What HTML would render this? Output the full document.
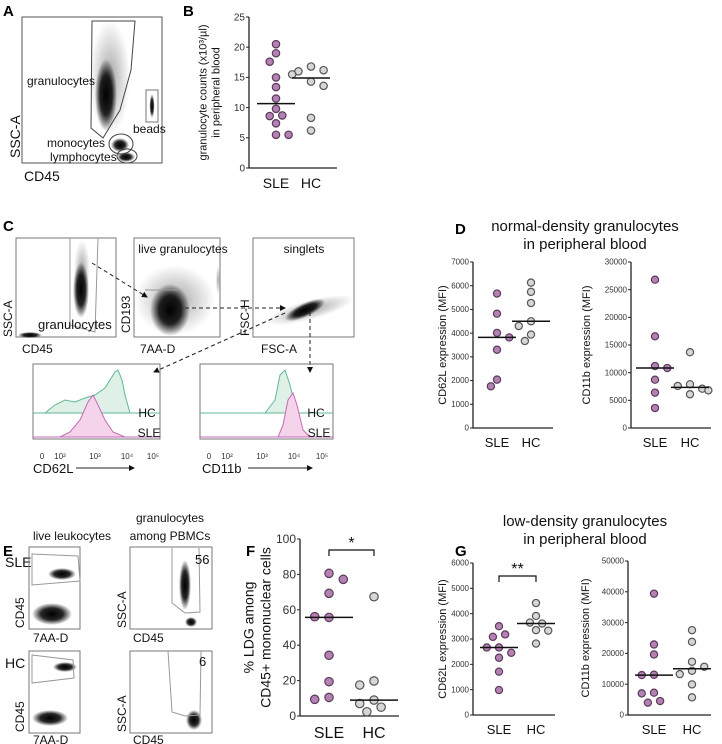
<!DOCTYPE html>
<html><head><meta charset="utf-8">
<style>
body{margin:0;background:#fff;}
svg{display:block;font-family:"Liberation Sans",sans-serif;}
.pl{font-weight:bold;font-size:15px;}
.t{fill:#111;}
</style></head>
<body>
<svg id="fig" width="722" height="744" viewBox="0 0 722 744" font-size="11">
<defs>
<radialGradient id="cloud"><stop offset="0" stop-color="#000" stop-opacity="1"/><stop offset="0.55" stop-color="#000" stop-opacity="0.85"/><stop offset="1" stop-color="#000" stop-opacity="0"/></radialGradient>
<radialGradient id="haze"><stop offset="0" stop-color="#000" stop-opacity="0.35"/><stop offset="1" stop-color="#000" stop-opacity="0"/></radialGradient>
<marker id="ah" markerWidth="6" markerHeight="6" refX="5" refY="3" orient="auto"><path d="M0,0L6,3L0,6z" fill="#111"/></marker>
</defs>

<text class="pl" x="3" y="16">A</text>
<text class="pl" x="183" y="16">B</text>
<text class="pl" x="3" y="231">C</text>
<text class="pl" x="455" y="234">D</text>
<text class="pl" x="3" y="556">E</text>
<text class="pl" x="246" y="556">F</text>
<text class="pl" x="455" y="556">G</text>

<g>
<rect x="22" y="17" width="140" height="146" fill="none" stroke="#555" stroke-width="1"/>
<ellipse cx="110" cy="78" rx="20" ry="58" fill="url(#haze)"/>
<ellipse cx="106" cy="95" rx="11" ry="36" fill="url(#cloud)"/>
<ellipse cx="120" cy="145" rx="9" ry="7" fill="url(#cloud)"/>
<ellipse cx="126" cy="157" rx="9" ry="5" fill="url(#cloud)"/>
<ellipse cx="152" cy="106" rx="2.5" ry="12" fill="url(#cloud)"/>
<path d="M92,21 L135,21 L131,70 L120,110 L103,138 L91,128 Z" fill="none" stroke="#444" stroke-width="1"/>
<rect x="146" y="90" width="12" height="32" fill="none" stroke="#777"/>
<ellipse cx="121" cy="144" rx="12" ry="10" fill="none" stroke="#444"/>
<ellipse cx="127" cy="156" rx="10" ry="7" fill="none" stroke="#444"/>
<text class="t" x="27" y="85" font-size="12">granulocytes</text>
<text class="t" x="47" y="147" font-size="12">monocytes</text>
<text class="t" x="50" y="161" font-size="12">lymphocytes</text>
<text class="t" x="133" y="133" font-size="12">beads</text>
<text class="t" font-size="14" transform="translate(20,158) rotate(-90)">SSC-A</text>
<text class="t" x="24" y="181" font-size="14">CD45</text>
</g>

<g>
<rect x="16" y="238" width="100" height="99" fill="none" stroke="#777"/>
<ellipse cx="81" cy="290" rx="8" ry="28" fill="url(#cloud)"/>
<ellipse cx="82" cy="270" rx="8" ry="30" fill="url(#haze)"/>
<ellipse cx="30" cy="335" rx="12" ry="3" fill="url(#cloud)"/>
<path d="M70,238 L70,325 L95,332 L98,238" fill="none" stroke="#999"/>
<text class="t" x="38" y="329" font-size="13">granulocytes</text>
<text class="t" font-size="12" transform="translate(12,337) rotate(-90)">SSC-A</text>
<text class="t" x="22" y="353" font-size="12">CD45</text>
<rect x="134" y="238" width="86" height="99" fill="none" stroke="#777"/>
<ellipse cx="170" cy="310" rx="20" ry="26" fill="url(#cloud)"/>
<ellipse cx="175" cy="300" rx="40" ry="35" fill="url(#haze)"/>
<ellipse cx="218" cy="280" rx="2" ry="15" fill="url(#haze)"/>
<path d="M145,290 L180,290" fill="none" stroke="#999"/>
<text class="t" x="183" y="253" text-anchor="middle" font-size="12">live granulocytes</text>
<text class="t" font-size="12" transform="translate(130,333) rotate(-90)">CD193</text>
<text class="t" x="140" y="353" font-size="12">7AA-D</text>
<rect x="253" y="238" width="101" height="99" fill="none" stroke="#777"/>
<ellipse cx="305" cy="310" rx="22" ry="7" transform="rotate(-25 305 310)" fill="url(#cloud)"/>
<ellipse cx="310" cy="310" rx="45" ry="10" transform="rotate(-15 310 310)" fill="url(#haze)"/>
<text class="t" x="304" y="253" text-anchor="middle" font-size="12">singlets</text>
<text class="t" font-size="12" transform="translate(249,336) rotate(-90)">FSC-H</text>
<text class="t" x="261" y="353" font-size="12">FSC-A</text>
<g stroke="#222" stroke-dasharray="4,3" fill="none" stroke-width="1" marker-end="url(#ah)">
<path d="M92,263 L147,297"/><path d="M178,308 L285,308"/><path d="M285,313 L154,372"/><path d="M310,312 L310,372"/>
</g>
<rect x="33" y="364" width="127" height="75" fill="none" stroke="#777"/>
<path d="M33,413 L45,413 L55,405 L65,400 L75,402 L85,398 L95,395 L105,388 L110,380 L115,372 L118,370 L122,380 L125,395 L130,413 L160,413 Z" fill="#dff0e6" stroke="#5fba94"/>
<path d="M33,437 L60,437 L70,432 L80,420 L88,402 L93,395 L98,405 L105,420 L113,432 L125,437 L160,437 Z" fill="#f5d3ea" stroke="#c36bb4"/>
<text class="t" x="147" y="417" font-size="12" text-anchor="middle">HC</text>
<text class="t" x="149" y="437" font-size="12" text-anchor="middle">SLE</text>
<rect x="200" y="364" width="133" height="75" fill="none" stroke="#777"/>
<path d="M200,413 L265,413 L275,400 L280,375 L285,370 L290,385 L297,413 L333,413 Z" fill="#dff0e6" stroke="#5fba94"/>
<path d="M200,437 L278,437 L283,425 L288,400 L293,393 L297,405 L303,430 L310,437 L333,437 Z" fill="#f5d3ea" stroke="#c36bb4"/>
<text class="t" x="316" y="417" font-size="12" text-anchor="middle">HC</text>
<text class="t" x="319" y="437" font-size="12" text-anchor="middle">SLE</text>
<g font-size="8" fill="#333" text-anchor="middle">
<text x="42" y="459">0</text><text x="60" y="459">10²</text><text x="95" y="459">10³</text><text x="127" y="459">10⁴</text><text x="153" y="459">10⁵</text>
<text x="209" y="459">0</text><text x="227" y="459">10²</text><text x="262" y="459">10³</text><text x="294" y="459">10⁴</text><text x="322" y="459">10⁵</text>
</g>
<text class="t" x="33" y="473" font-size="13">CD62L</text>
<text class="t" x="202" y="473" font-size="13">CD11b</text>
<path d="M76,468 L134,468" stroke="#222" marker-end="url(#ah)"/>
<path d="M248,468 L312,468" stroke="#222" marker-end="url(#ah)"/>
</g>

<g>
<text class="t" x="72" y="540" text-anchor="middle" font-size="12">live leukocytes</text>
<text class="t" x="170" y="522" text-anchor="middle" font-size="12">granulocytes</text>
<text class="t" x="170" y="540" text-anchor="middle" font-size="12">among PBMCs</text>
<text class="t" x="5" y="567" font-size="14">SLE</text>
<text class="t" x="5" y="668" font-size="14">HC</text>
<rect x="29" y="547" width="51" height="82" fill="none" stroke="#777"/>
<ellipse cx="62" cy="574" rx="14" ry="6" fill="url(#cloud)"/>
<ellipse cx="52" cy="614" rx="20" ry="11" fill="url(#cloud)"/>
<path d="M32,554 L78,556 L80,581 L32,585 Z" fill="none" stroke="#999"/>
<rect x="130" y="547" width="82" height="82" fill="none" stroke="#777"/>
<ellipse cx="185" cy="585" rx="6" ry="25" fill="url(#cloud)"/>
<ellipse cx="191" cy="622" rx="6" ry="5" fill="url(#cloud)"/>
<path d="M172,548 L172,603 L185,613 L200,612 L199,548" fill="none" stroke="#999"/>
<text class="t" x="195" y="564" font-size="13">56</text>
<rect x="29" y="651" width="51" height="82" fill="none" stroke="#777"/>
<ellipse cx="65" cy="667" rx="12" ry="5" fill="url(#cloud)"/>
<ellipse cx="50" cy="718" rx="18" ry="8" fill="url(#cloud)"/>
<path d="M32,655 L73,660 L74,678 L32,683 Z" fill="none" stroke="#999"/>
<rect x="130" y="651" width="82" height="82" fill="none" stroke="#777"/>
<ellipse cx="194" cy="720" rx="8" ry="10" fill="url(#cloud)"/>
<path d="M168,651 L172,712 L185,716 L200,715 L201,651" fill="none" stroke="#999"/>
<text class="t" x="199" y="666" font-size="13">6</text>
<g font-size="12" class="t">
<text transform="translate(24,628) rotate(-90)">CD45</text><text x="33" y="642">7AA-D</text>
<text transform="translate(126,628) rotate(-90)">SSC-A</text><text x="133" y="642">CD45</text>
<text transform="translate(24,732) rotate(-90)">CD45</text><text x="33" y="744">7AA-D</text>
<text transform="translate(126,732) rotate(-90)">SSC-A</text><text x="133" y="744">CD45</text>
</g>
</g>

<text class="t" x="585" y="231" text-anchor="middle" font-size="15">normal-density granulocytes</text>
<text class="t" x="585" y="249" text-anchor="middle" font-size="15">in peripheral blood</text>
<text class="t" x="585" y="526" text-anchor="middle" font-size="15">low-density granulocytes</text>
<text class="t" x="585" y="544" text-anchor="middle" font-size="15">in peripheral blood</text>

<g id="charts"></g>
</svg>
<script>
const bTicks=[0,5,10,15,20,25];
const bSLE=[20.5,19,17.6,15,13.4,11.5,9.8,8.7,8.6,7.4,5.5,5.5];
const bHC=[16.8,16.2,16,15.5,14.3,13.6,8.3,6.2];
const dLTicks=[0,1000,2000,3000,4000,5000,6000,7000];
const dLSLE=[5670,4820,4010,3820,3300,2040,1760];
const dLHC=[6130,5740,5270,4500,4300,3940,3670];
const dRTicks=[0,5000,10000,15000,20000,25000,30000];
const dRSLE=[26800,16570,11200,10840,8730,6390,3610];
const dRHC=[13700,7900,7600,7100,6800,6100];
const fTicks=[0,20,40,60,80,100];
const fSLE=[80.6,77.2,69.3,55.7,56.1,34.3,19.4,10.5,9.4];
const fHC=[67.4,19.8,17.5,9,7,5,2.4];
const gLTicks=[0,1000,2000,3000,4000,5000,6000];
const gLSLE=[3505,3180,3085,2665,2665,2455,2260,1710,985];
const gLHC=[4420,3910,3650,3610,3350,3330,2820];
const gRTicks=[0,10000,20000,30000,40000,50000];
const gRSLE=[39400,22900,19650,13070,12960,7240,7020,4540,4000];
const gRHC=[27540,23760,17280,15660,14360,13280,9930,5730];
const groups=["SLE","HC"];

const NS="http://www.w3.org/2000/svg";
const root=document.getElementById('charts');
function mk(tag,attrs,parent){const e=document.createElementNS(NS,tag);for(const k in attrs)e.setAttribute(k,attrs[k]);(parent||root).appendChild(e);return e;}
function median(a){const s=[...a].sort((x,y)=>x-y);const n=s.length;return n%2?s[(n-1)/2]:(s[n/2-1]+s[n/2])/2;}

function chart(o){
  const g=mk('g',{});
  
  
  const max=o.ticks[o.ticks.length-1];
  const y=v=>o.y0-(v/max)*(o.y0-o.y1);
  mk('line',{x1:o.ax,y1:o.y1,x2:o.ax,y2:o.y0,stroke:'#222','stroke-width':1.3},g);
  mk('line',{x1:o.ax,y1:o.y0,x2:o.ax2,y2:o.y0,stroke:'#222','stroke-width':1.3},g);
  o.ticks.forEach(t=>{
    mk('line',{x1:o.ax-3,y1:y(t),x2:o.ax,y2:y(t),stroke:'#222'},g);
    const tx=mk('text',{x:o.ax-4,y:y(t)+o.tf/3,'text-anchor':'end','font-size':o.tf,fill:'#333'},g);
    tx.textContent=t;
    
    
  });
  const tt=mk('text',{transform:`translate(${o.tx},${(o.y0+o.y1)/2}) rotate(-90)`,'text-anchor':'middle','font-size':o.tsz,fill:'#111'},g);
  
  
  o.title.forEach((line,i)=>{const ts=mk('tspan',{x:0,dy:i?o.tsz*1.2:0},tt);ts.textContent=line;});
  if(o.title.length>1) tt.setAttribute('transform',`translate(${o.tx-o.tsz*0.6},${(o.y0+o.y1)/2}) rotate(-90)`);
  const series=[o.sle,o.hc], fills=['#b482b2','#d6d6d6'], strokes=['#5b3a5c','#555'];
  series.forEach((arr,si)=>{
    const cx=o.cx[si], r=o.r;
    const placed=[];
    arr.forEach((v,i)=>{
      const py=y(v);
      const sgn=(i%2)?1:-1;
      const cands=[0,sgn*1,-sgn*1,sgn*2,-sgn*2,sgn*3,-sgn*3];
      let off=cx;
      for(const c of cands){const px=cx+c*r*1.7;
        off=px;
        if(placed.every(p=>Math.hypot(p[0]-px,p[1]-py)>=2*r+1.5))break;}
      placed.push([off,py]);
      const c=mk('circle',{cx:off,cy:py,r:r,fill:fills[si],stroke:strokes[si],'stroke-width':1.2},g);
      
      
    });
    const m=y(median(arr));
    const ml=mk('line',{x1:cx-o.mw,y1:m,x2:cx+o.mw,y2:m,stroke:'#111','stroke-width':1.5},g);
    
    
    const xl=mk('text',{x:cx,y:o.y0+o.xf+6,'text-anchor':'middle','font-size':o.xf,fill:'#111'},g);
    xl.textContent=groups[si];
    
    
  });
  if(o.sig){
    const by=o.sigY;
    mk('path',{d:`M${o.cx[0]},${by+6} L${o.cx[0]},${by} L${o.cx[1]},${by} L${o.cx[1]},${by+6}`,fill:'none',stroke:'#111','stroke-width':1.2},g);
    const st=mk('text',{x:(o.cx[0]+o.cx[1])/2,y:by-2,'text-anchor':'middle','font-size':16,fill:'#111'},g);
    st.textContent=o.sig;
    
    
  }
}
chart({name:'chart-b-granulocyte-counts',ticks:bTicks,sle:bSLE,hc:bHC,ax:249,ax2:337,y0:168,y1:17,cx:[276,311],r:3.7,mw:19,tf:10,xf:14,tx:213,tsz:11,title:['granulocyte counts (x10³/µl)','in peripheral blood']});
chart({name:'chart-d-cd62l',ticks:dLTicks,sle:dLSLE,hc:dLHC,ax:473,ax2:553,y0:428,y1:262,cx:[497,531],r:3.6,mw:19,tf:8,xf:13,tx:446,tsz:11,title:['CD62L expression (MFI)']});
chart({name:'chart-d-cd11b',ticks:dRTicks,sle:dRSLE,hc:dRHC,ax:631,ax2:711,y0:428,y1:262,cx:[655,690],r:3.6,mw:19,tf:8,xf:13,tx:590,tsz:11,title:['CD11b expression (MFI)']});
chart({name:'chart-f-ldg',ticks:fTicks,sle:fSLE,hc:fHC,ax:300,ax2:399,y0:716,y1:539,cx:[329,374],r:4.2,mw:24,tf:12,xf:16,tx:262,tsz:14,title:['% LDG among','CD45+ mononuclear cells'],sig:'*',sigY:550});
chart({name:'chart-g-cd62l',ticks:gLTicks,sle:gLSLE,hc:gLHC,ax:473,ax2:555,y0:715,y1:563,cx:[499,536],r:3.6,mw:19,tf:8,xf:13,tx:446,tsz:11,title:['CD62L expression (MFI)'],sig:'**',sigY:576});
chart({name:'chart-g-cd11b',ticks:gRTicks,sle:gRSLE,hc:gRHC,ax:628,ax2:711,y0:715,y1:561,cx:[654,692],r:3.6,mw:19,tf:8,xf:13,tx:589,tsz:11,title:['CD11b expression (MFI)']});
</script>
</body></html>
